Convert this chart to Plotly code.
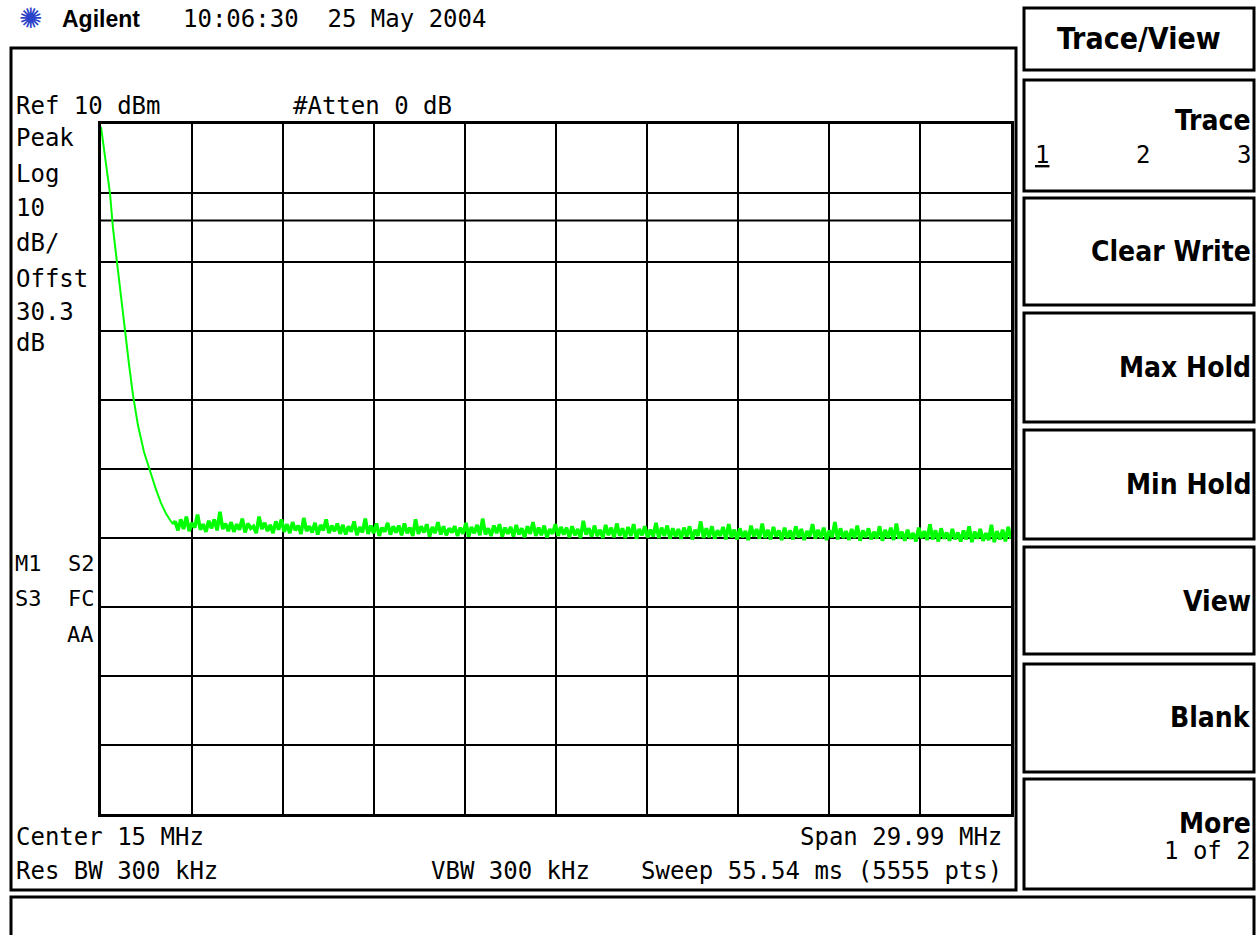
import numpy as np
import plotly.graph_objects as go

# ---------------- data ----------------
center_mhz = 15.0
span_mhz = 29.99
ref_level_dbm = 10.0
db_per_div = 10.0
display_line_dbm = -4.0

# roll-off near DC (frequency in MHz, amplitude in dBm)
rolloff_freq = [0.005, 0.104, 0.20, 0.30, 0.40, 0.53, 0.66, 0.79, 0.93, 1.06,
                1.22, 1.42, 1.62, 1.82, 1.98, 2.15, 2.28, 2.38]
rolloff_dbm = [9.6, 6.2, 3.0, 0.0, -5.1, -10.0, -15.5, -20.1, -24.9, -29.3,
               -33.6, -37.5, -40.4, -43.0, -44.9, -46.5, -47.4, -48.0]

# noise floor samples (dBm), from ~2.45 MHz to stop freq
floor_dbm = [
    -47.6, -48.9, -47.3, -48.7, -46.9, -49.0, -47.8, -48.5, -46.6, -48.8, -48.0, -49.1, -47.5, -48.6, -47.3, -48.9, -46.2, -48.7, -47.9, -49.0,
    -47.7, -49.1, -48.0, -48.8, -47.2, -49.2, -47.9, -48.6, -48.3, -49.3, -46.9, -48.7, -47.8, -49.0, -48.1, -49.3, -47.6, -48.8, -47.3, -49.1,
    -48.0, -49.3, -47.7, -48.9, -48.2, -49.4, -47.1, -49.0, -48.3, -49.2, -47.8, -49.5, -48.1, -48.9, -47.3, -49.3, -48.2, -49.0, -47.9, -49.4,
    -48.1, -49.5, -48.3, -49.1, -47.6, -49.6, -48.4, -49.2, -47.2, -49.4, -48.2, -49.3, -47.9, -49.7, -48.5, -49.1, -47.8, -49.5, -48.3, -49.2,
    -48.2, -49.6, -47.9, -49.3, -48.5, -49.7, -47.3, -49.4, -48.3, -49.2, -48.0, -49.8, -48.4, -49.3, -47.7, -49.5, -48.3, -49.6, -48.6, -49.2,
    -48.3, -49.7, -48.5, -49.4, -47.8, -49.8, -48.4, -49.3, -48.1, -49.6, -47.2, -49.5, -48.6, -49.7, -48.2, -49.3, -48.0, -49.8, -48.5, -49.4,
    -48.4, -49.8, -48.1, -49.5, -48.6, -49.9, -48.3, -49.4, -47.7, -49.7, -48.5, -49.6, -48.2, -49.9, -48.7, -49.4, -48.0, -49.7, -48.4, -49.5,
    -48.5, -49.9, -48.3, -49.6, -48.7, -50.0, -47.5, -49.5, -48.6, -49.8, -48.2, -49.7, -48.8, -50.0, -48.1, -49.6, -48.5, -49.9, -47.9, -49.7,
    -48.6, -50.0, -48.4, -49.7, -48.0, -50.1, -48.7, -49.6, -48.3, -49.9, -48.8, -49.8, -47.8, -50.0, -48.5, -49.7, -48.2, -50.1, -48.6, -49.8,
    -48.7, -50.1, -48.5, -49.8, -48.3, -50.2, -48.8, -49.7, -47.6, -50.0, -48.6, -49.9, -48.3, -50.1, -48.9, -49.7, -48.4, -50.2, -48.0, -49.9,
    -48.8, -50.2, -48.6, -49.9, -49.0, -50.3, -48.2, -49.8, -48.7, -50.1, -47.9, -50.0, -48.8, -50.2, -48.4, -49.8, -48.9, -50.3, -48.5, -50.0,
    -48.9, -50.2, -48.3, -49.9, -48.7, -50.3, -49.0, -49.8, -48.0, -50.1, -48.8, -50.0, -48.5, -50.3, -48.9, -49.9, -47.7, -50.2, -48.6, -50.0,
    -49.0, -50.3, -48.7, -50.0, -48.2, -50.4, -48.9, -49.9, -48.6, -50.2, -49.1, -50.1, -48.3, -50.4, -48.8, -50.0, -48.5, -50.3, -47.9, -50.1,
    -49.1, -50.4, -48.8, -50.1, -49.3, -50.5, -48.5, -50.0, -49.0, -50.3, -48.0, -50.2, -48.9, -50.5, -48.6, -50.1, -49.2, -50.4, -48.7, -50.2,
    -49.2, -50.5, -48.9, -50.2, -48.3, -50.6, -49.1, -50.1, -48.7, -50.4, -49.3, -50.3, -48.1, -50.6, -49.0, -50.2, -48.8, -50.5, -48.4, -50.1,
]
floor_start_mhz = 2.45

left_labels = ["Peak", "Log", "10", "dB/", "Offst", "30.3", "dB"]
softkeys = ["Clear Write", "Max Hold", "Min Hold", "View", "Blank"]

# ---------------- derived ----------------
start_mhz = center_mhz - span_mhz / 2
stop_mhz = center_mhz + span_mhz / 2
bottom_dbm = ref_level_dbm - 10 * db_per_div
floor_freq = list(np.linspace(floor_start_mhz, stop_mhz, len(floor_dbm)))

W, H = 1257, 935


def px(x):
    return x / W


def py(y):
    return 1 - y / H


MONO = "DejaVu Sans Mono"
KEY = "DejaVu Sans Condensed, DejaVu Sans"
GREEN = "#00ff00"

fig = go.Figure()
fig.add_trace(go.Scatter(x=rolloff_freq, y=rolloff_dbm, mode="lines",
                         line=dict(color=GREEN, width=2),
                         hoverinfo="skip", showlegend=False))
fig.add_trace(go.Scatter(x=[rolloff_freq[-1]] + floor_freq,
                         y=[rolloff_dbm[-1]] + floor_dbm, mode="lines",
                         line=dict(color=GREEN, width=3.6),
                         hoverinfo="skip", showlegend=False))

shapes = []


def box(x0, y0, x1, y1, w=3):
    shapes.append(dict(type="rect", xref="paper", yref="paper",
                       x0=px(x0), x1=px(x1), y0=py(y1), y1=py(y0),
                       line=dict(color="black", width=w), layer="above"))


# outer measurement frame
box(11, 48, 1016, 890)
# softkey boxes
box(1024, 8, 1254, 70)
for (a, b) in [(80, 191), (198, 305), (313, 422), (430, 539), (547, 654), (664, 772), (779, 889)]:
    box(1024, a, 1254, b)
# bottom message box
box(11, 897, 1254, 960)

# display line
shapes.append(dict(type="line", xref="x domain", yref="y", x0=0, x1=1,
                   y0=display_line_dbm, y1=display_line_dbm,
                   line=dict(color="black", width=2), layer="below"))

ann = []


def txt(x, y, s, anchor="left", size=24, family=MONO, color="black"):
    ann.append(dict(xref="paper", yref="paper", x=px(x), y=py(y), text=s,
                    showarrow=False, xanchor=anchor, yanchor="middle",
                    font=dict(family=family, size=size, color=color)))


# header
txt(31, 19, "✺", anchor="center", size=28, family="DejaVu Sans", color="#2b43c9")
txt(60, 19, "<b>Agilent</b>", size=23, family="Liberation Sans")
txt(181, 19, "10:06:30  25 May 2004")
txt(14, 106, "Ref 10 dBm")
txt(291, 106, "#Atten 0 dB")
ys = [138, 174, 208, 243, 279, 312, 343]
for lab, y in zip(left_labels, ys):
    txt(14, y, lab)
txt(96, 563, "M1  S2", anchor="right", size=22)
txt(96, 598, "S3  FC", anchor="right", size=22)
txt(96, 634, "AA", anchor="right", size=22)
txt(14, 837, "Center 15 MHz")
txt(1004, 837, "Span 29.99 MHz", anchor="right")
txt(14, 871, "Res BW 300 kHz")
txt(429, 871, "VBW 300 kHz")
txt(1004, 871, "Sweep 55.54 ms (5555 pts)", anchor="right")

# softkeys
txt(1139, 38, "<b>Trace/View</b>", anchor="center", size=30, family=KEY)
txt(1253, 120, "<b>Trace</b>", anchor="right", size=28, family=KEY)
txt(1033, 155, "<u>1</u>")
txt(1143, 155, "2", anchor="center")
txt(1253, 155, "3", anchor="right")
for lab, y in zip(softkeys, [251, 367, 484, 601, 717]):
    txt(1253, y, "<b>" + lab + "</b>", anchor="right", size=28, family=KEY)
txt(1253, 823, "<b>More</b>", anchor="right", size=28, family=KEY)
txt(1253, 851, "1 of 2", anchor="right")

fig.update_layout(
    width=W, height=H, margin=dict(l=0, r=0, t=0, b=0),
    paper_bgcolor="white", plot_bgcolor="white",
    shapes=shapes, annotations=ann, showlegend=False,
    xaxis=dict(domain=[px(101), px(1011)], range=[start_mhz, stop_mhz],
               tick0=start_mhz, dtick=span_mhz / 10, showgrid=True,
               gridcolor="black", gridwidth=2, showticklabels=False, ticks="",
               zeroline=False, showline=True, mirror=True, linecolor="black",
               linewidth=3, fixedrange=True),
    yaxis=dict(domain=[py(814), py(124)], range=[bottom_dbm, ref_level_dbm],
               tick0=ref_level_dbm, dtick=db_per_div, showgrid=True,
               gridcolor="black", gridwidth=2, showticklabels=False, ticks="",
               zeroline=False, showline=True, mirror=True, linecolor="black",
               linewidth=3, fixedrange=True),
)

fig.write_html("out.html", config={"displayModeBar": False},
               post_script="document.body.style.margin='0px';"
                           "document.body.style.overflow='hidden';")
